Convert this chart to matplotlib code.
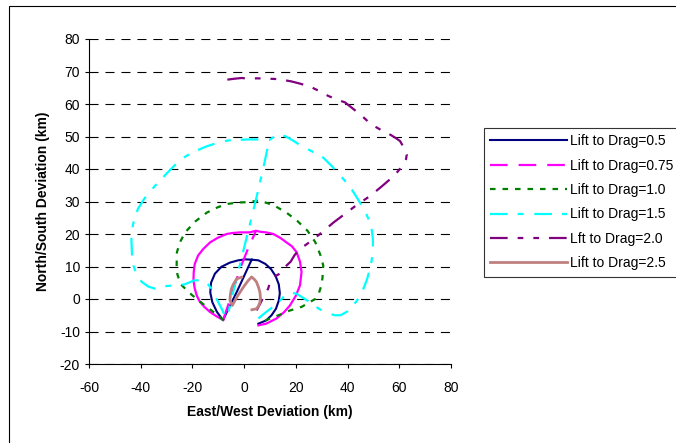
import numpy as np
import matplotlib
matplotlib.use('Agg')
import matplotlib.pyplot as plt
from matplotlib.patches import Rectangle

plt.rcParams['font.family'] = ['Liberation Sans', 'DejaVu Sans']
plt.rcParams['font.size'] = 10
plt.rcParams['lines.scale_dashes'] = False
plt.rcParams['axes.unicode_minus'] = False

# ground tracks, east/west (km) vs north/south (km)
ld05_x = [5.5, 8.5, 10.6, 12.3, 13.4, 13.8, 13.4, 12.2, 10.4, 8.2, 5.5, 2.9,
          -2.6, -8.2, -10.5, -12.3, -13.1, -12.8, -11.3, -8.8, -5.5, -2.3, 0.5, 2.9]
ld05_y = [-7.6, -6.6, -5.0, -3.0, -0.5, 1.8, 4.5, 7.0, 9.2, 10.8, 11.9, 12.1,
          2.6, -6.5, -4.0, -1.0, 2.0, 5.0, 7.8, 9.9, 11.2, 11.9, 12.2, 12.1]

ld075_x = [5.5, 8.5, 12.5, 15.5, 17.7, 20.0, 21.6, 22.2, 21.6, 20.3, 18.5, 16.4,
           14.0, 11.3, 8.5, 6.1, 4.6, 2.2, -1.6, -4.5, -6.8, -10.3, -13.2, -15.8,
           -17.8, -19.1, -19.5, -19.6, -19.1, -18.3, -17.1, -15.3, -13.2, -10.7, -8.1]
ld075_y = [-8.1, -7.6, -6.0, -4.0, -2.0, 1.0, 4.2, 8.3, 11.5, 14.4, 16.2, 17.4,
           18.8, 20.0, 20.5, 20.7, 21.0, 20.5, 20.5, 20.3, 20.0, 18.8, 17.4, 15.4,
           13.4, 10.8, 8.3, 5.7, 3.2, 1.0, -0.9, -2.5, -4.0, -5.3, -6.5]
ld075_in_x = [-8.1, -4.8, -1.5, 1.5, 4.6]
ld075_in_y = [-6.5, 1.5, 9.5, 15.5, 21.0]

ld10_x = [-7.9, -10.5, -14.4, -17.5, -20.3, -22.8, -24.5, -25.8, -26.1, -26.0, -24.8,
          -22.8, -19.0, -14.4, -10.0, -6.1, -2.0, 1.5, 5.6, 9.0, 12.2, 16.5, 20.6,
          24.5, 27.5, 29.5, 30.6, 30.3, 29.8, 28.9, 27.5, 25.5, 22.3, 17.5, 13.9, 10.0, 5.6]
ld10_y = [-6.6, -4.8, -2.5, -0.5, 1.3, 3.2, 4.5, 7.5, 10.5, 14.4, 17.5,
          20.5, 23.8, 26.6, 28.3, 29.3, 29.7, 29.8, 30.3, 29.5, 28.5, 26.5, 24.0,
          21.0, 17.5, 13.5, 10.3, 6.5, 4.0, 1.8, 0.0, -0.9, -2.4, -3.6, -4.8, -6.0, -7.6]

ld15_x = [5.5, 8.5, 11.9, 14.5, 16.4, 18.3, 20.3, 24.5, 28.9, 32.0, 35.0, 37.3, 40.0,
          42.3, 44.5, 45.6, 47.5, 49.0, 49.8, 49.8, 49.3, 48.1, 46.5, 44.0, 41.0, 37.3,
          34.0, 30.6, 26.5, 22.3, 19.0, 16.4, 13.9, 12.3, 9.7, 6.0, 2.2, -2.0, -6.1,
          -10.5, -14.4, -19.5, -24.5, -29.5, -34.5, -38.5, -41.1, -43.0, -43.6, -43.4,
          -42.8, -41.5, -39.5, -37.0, -34.5, -31.0, -27.0, -23.0, -19.4, -17.0, -15.8,
          -14.0, -12.6, -10.7, -8.7, -7.5, -6.5, -4.3, -1.8, 1.3, 4.7, 7.6, 9.7]
ld15_y = [-6.0, -4.0, -2.0, 0.0, 1.6, 2.0, 1.6, -0.5, -3.0, -4.2, -5.0, -5.0, -3.8,
          -1.9, 0.5, 2.1, 6.0, 10.3, 14.5, 18.5, 21.5, 24.6, 27.5, 30.7, 34.5, 37.9,
          40.8, 43.5, 45.3, 47.0, 48.7, 49.9, 50.6, 50.3, 48.9, 49.1, 49.1, 49.0, 48.8,
          48.0, 47.0, 45.3, 43.0, 39.0, 34.8, 31.0, 27.7, 23.0, 18.5, 14.0,
          10.3, 7.2, 5.2, 3.8, 3.2, 3.9, 4.2, 4.5, 5.7, 5.8, 5.5,
          4.5, 3.2, 0.1, -3.0, -5.0, -5.5, 2.0, 10.0, 20.0, 31.0, 41.0, 48.9]

ld20_x = [-6.5, -3.5, -1.0, 2.0, 5.0, 8.5, 12.0, 15.0, 18.0, 21.0, 25.4, 29.0, 32.5,
          36.0, 39.0, 42.5, 46.0, 49.0, 52.5, 55.8, 58.5, 60.3, 61.8, 62.9, 62.6, 61.6,
          59.5, 57.1, 53.0, 48.7, 43.5, 39.0, 34.5, 29.3, 25.5, 21.6, 19.5, 18.0, 16.0,
          13.8, 12.0, 10.0, 9.3, 8.0, 6.5, 4.8]
ld20_y = [67.5, 67.8, 68.0, 67.8, 67.9, 67.8, 67.7, 67.4, 67.0, 66.4, 65.4, 64.0, 62.5,
          61.3, 60.5, 58.3, 56.0, 53.8, 52.2, 50.9, 49.6, 48.6, 46.5, 44.5, 43.0, 41.4,
          39.3, 37.3, 34.5, 31.7, 28.9, 26.2, 23.5, 20.0, 17.6, 15.4, 13.5, 11.5, 10.0,
          7.8, 7.0, 5.2, 3.2, 1.6, -1.0, -3.5]

ld25_x = [-1.0, -2.9, -4.2, -4.9, -5.3, -5.5, -4.6, -2.5, 0.0, 1.5, 2.9, 4.0, 4.8,
          5.6, 6.1, 6.3, 6.1, 5.5, 4.8, 3.0]
ld25_y = [6.7, 6.2, 4.5, 3.2, 1.5, -0.4, -2.0, 1.0, 4.0, 5.6, 6.8, 6.0, 5.2,
          3.5, 2.1, 0.5, -1.0, -2.2, -3.0, -3.3]

labels = ['Lift to Drag=0.5', 'Lift to Drag=0.75', 'Lift to Drag=1.0',
          'Lift to Drag=1.5', 'Lft to Drag=2.0', 'Lift to Drag=2.5']

fig = plt.figure(figsize=(6.76, 4.43), dpi=100)
ax = fig.add_axes([89/676, 1-364/443, (451-89)/676, (364-39)/443])

lw = 1.6
h1, = ax.plot(ld05_x, ld05_y, color='#000080', lw=1.5)
ax.plot(ld075_x, ld075_y, color='#FF00FF', lw=lw)
h2, = ax.plot(ld075_in_x, ld075_in_y, color='#FF00FF', lw=lw, dashes=(12.7, 7.9))
h3, = ax.plot(ld10_x, ld10_y, color='#008000', lw=lw, dashes=(4.0, 5.0))
h4, = ax.plot(ld15_x, ld15_y, color='#00FFFF', lw=lw, dashes=(12.7, 7.2, 4.3, 7.7))
h5, = ax.plot(ld20_x, ld20_y, color='#800080', lw=lw,
              dashes=(12.7, 7.2, 4.1, 7.2, 4.1, 7.2))
h6, = ax.plot(ld25_x, ld25_y, color='#C08080', lw=2.0)

ax.set_xlim(-60, 80)
ax.set_ylim(-20, 80)
ax.set_xticks(np.arange(-60, 81, 20))
ax.set_yticks(np.arange(-20, 81, 10))
ax.yaxis.grid(True, color='black', lw=0.8, dashes=(6.5, 5))
ax.set_axisbelow(True)
for s in ['top', 'right']:
    ax.spines[s].set_visible(False)
for s in ['left', 'bottom']:
    ax.spines[s].set_linewidth(0.8)
ax.tick_params(axis='x', direction='out', length=3, width=0.8, pad=9)
ax.tick_params(axis='y', direction='out', length=3, width=0.8, pad=3.5)

ax.set_xlabel('East/West Deviation (km)', fontweight='bold', va='center')
ax.xaxis.set_label_coords(0.5, -0.148)
ax.set_ylabel('North/South Deviation (km)', fontweight='bold', va='center')
ax.yaxis.set_label_coords(-0.127, 0.5)

leg = fig.legend([h1, h2, h3, h4, h5, h6], labels, loc='upper left',
                 bbox_to_anchor=(484/676, 1-128/443), bbox_transform=fig.transFigure,
                 handlelength=5.5, handletextpad=0.25, labelspacing=0.75,
                 borderpad=0.45, borderaxespad=0, fancybox=False)
leg.get_frame().set_edgecolor('black')
leg.get_frame().set_linewidth(0.8)

# outer chart border
fig.add_artist(Rectangle((9/676, -0.1), 1.2, 1.1 - 6/443, transform=fig.transFigure,
                         fill=False, ec='black', lw=0.8))

fig.savefig('out.png', dpi=100)
